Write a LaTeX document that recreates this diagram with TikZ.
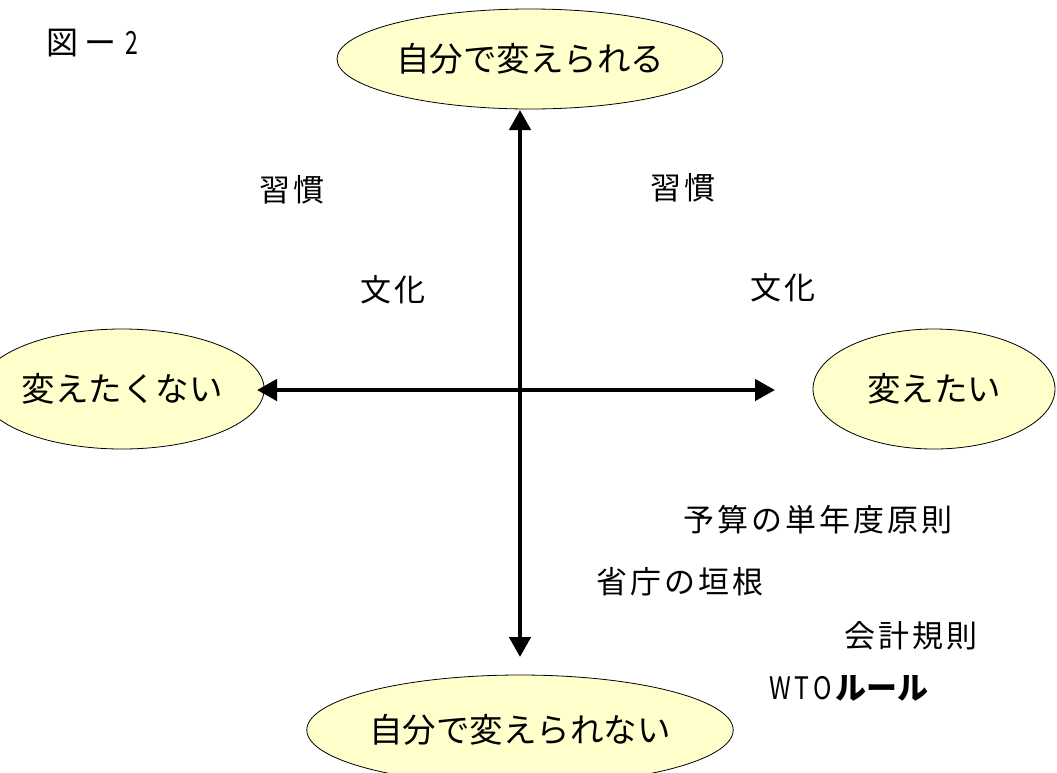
\documentclass[tikz,border=0pt]{standalone}
\usepackage{fontspec}
\usepackage{graphicx}
\setmainfont{Noto Sans CJK JP}
\usetikzlibrary{arrows.meta,shapes.geometric}
\newlength{\lspamt}
\setlength{\lspamt}{3pt}
\def\lsp#1{\lspaux#1\relax\relax}
\def\lspaux#1#2{#1\ifx\relax#2\else\hspace{\lspamt}\expandafter\lspaux\expandafter#2\fi}
\begin{document}
\begin{tikzpicture}[x=1pt,y=-1pt,
  oval/.style={ellipse,draw=black,line width=0.8pt,fill=ovalfill,inner sep=0pt,font=\fontsize{33.5}{38}\selectfont},
  lbl/.style={inner sep=0pt,font=\fontsize{31}{36}\selectfont},
  dbl/.style={line width=4.5pt,{Triangle[width=21pt,length=20pt]}-{Triangle[width=21pt,length=20pt]}}]
\definecolor{ovalfill}{HTML}{FFFFCC}
\useasboundingbox (0,0) rectangle (1057,772);
\node[lbl,anchor=west,font=\fontsize{32}{36}\selectfont] (title) at (46,43) {図\hspace{6pt}ー\hspace{9pt}\scalebox{0.72}[1]{2}};
\node[oval,minimum width=386pt,minimum height=100pt] (top) at (530,59) {自分で変えられる};
\node[oval,minimum width=229pt,minimum height=120pt] (left) at (122,389) {変えたくない};
\node[oval,minimum width=242pt,minimum height=120pt] (right) at (934,389) {変えたい};
\node[oval,minimum width=386pt,minimum height=110pt] (bot) at (520,730) {自分で変えられない};
\coordinate (vt) at (520,110);
\coordinate (vb) at (520,657);
\coordinate (hl) at (257,390);
\coordinate (hr) at (775,390);
\draw[dbl] (vt) -- (vb);
\draw[dbl] (hl) -- (hr);
\node[lbl] (h1) at (292,190) {\lsp{習慣}};
\node[lbl] (h2) at (683,188) {\lsp{習慣}};
\node[lbl] (b1) at (393,290) {\lsp{文化}};
\node[lbl] (b2) at (783,288) {\lsp{文化}};
\node[lbl] (y1) at (818,520) {\lsp{予算の単年度原則}};
\node[lbl] (s1) at (680,582) {\lsp{省庁の垣根}};
\node[lbl] (k1) at (911,636) {\lsp{会計規則}};
\node[lbl,anchor=west] (w1) at (770,688) {\makebox[21pt]{\scalebox{0.8}[1]{W}}\makebox[21pt]{\scalebox{0.8}[1]{T}}\makebox[21pt]{\scalebox{0.8}[1]{O}}\hspace{2pt}{\bfseries ルール}};
\end{tikzpicture}
\end{document}
